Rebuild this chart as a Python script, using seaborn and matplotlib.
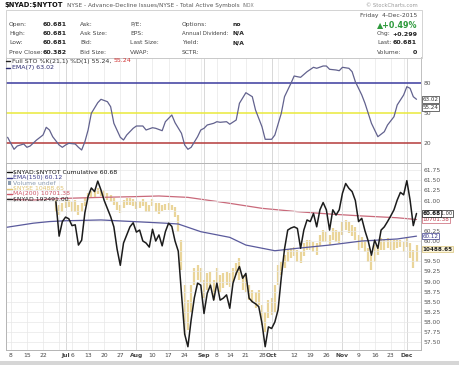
import numpy as np
import pandas as pd
import matplotlib
matplotlib.use("Agg")
import matplotlib.pyplot as plt
import matplotlib.transforms as mtransforms
from matplotlib.lines import Line2D
from matplotlib.patches import Rectangle
import seaborn as sns

# ---------------- data ----------------
holidays = ["2015-07-03", "2015-09-07", "2015-11-26"]
cal_start, cal_end = "2015-06-04", "2015-12-04"

cum_start = "2015-06-26"
cum_values = [
    60.97, 60.12, 60.48,
    60.59, 60.55, 60.38, 60.40, 59.90, 60.02, 60.70, 61.10, 61.31, 61.22, 61.48, 61.26,
    61.00, 60.80, 60.60, 60.35, 59.80, 59.40, 59.95, 60.15, 60.35, 60.45,
    60.22, 60.27, 60.00, 59.95, 59.85, 60.29, 60.00, 60.15, 59.88, 60.23, 60.44, 60.36,
    60.00, 59.75, 58.70, 57.70, 57.39, 58.05, 58.60, 58.96, 58.91,
    58.21, 58.71, 58.91, 58.54, 58.96, 58.54, 58.59, 58.67, 58.34, 58.96, 59.20, 59.37,
    59.08, 59.20, 58.59, 58.50, 58.45, 58.38, 57.97, 57.39, 57.88,
    57.84, 58.00, 58.30, 59.10, 59.80, 60.27, 60.32, 60.35, 60.31, 59.82, 60.27, 60.52,
    60.48, 60.68, 60.35, 60.77, 60.95, 60.77, 60.27, 60.77, 60.64, 60.77,
    61.18, 61.42, 61.30, 61.22, 61.00, 60.48, 60.56, 60.25, 60.00, 59.65, 60.02, 59.82,
    60.27, 60.35, 60.48, 60.62, 60.77, 61.01, 61.20, 61.14,
    61.49, 61.01, 60.38, 60.68,
]

nyse_start = "2015-06-26"
nyse_high = [
    10840, 10805, 10820, 10840, 10840, 10830, 10840, 10805, 10820, 10855,
    10890, 10905, 10905, 10930, 10915, 10915, 10890, 10880, 10855, 10830,
    10805, 10840, 10855, 10855, 10850, 10835, 10835, 10850, 10830, 10805,
    10850, 10820, 10820, 10805, 10815, 10820, 10805, 10790,
    10735, 10555, 10230, 10120, 10230, 10350, 10375, 10350, 10265, 10315,
    10325, 10265, 10350, 10300, 10315, 10325, 10315, 10350, 10390, 10425,
    10300, 10300, 10230, 10195, 10180, 10195, 10085, 10035, 10120, 10135,
    10230, 10375, 10395, 10445, 10480, 10495, 10505, 10480, 10465, 10530,
    10555, 10555, 10540, 10530, 10590, 10625, 10610, 10590, 10640, 10625,
    10610, 10685, 10700, 10685, 10660, 10645, 10590, 10575, 10555, 10495,
    10445, 10520, 10520, 10570, 10555, 10570, 10555, 10555, 10555, 10555,
    10540, 10570, 10530, 10480, 10520,
]
nyse_low = [
    10755, 10735, 10755, 10785, 10790, 10755, 10755, 10735, 10755, 10800,
    10840, 10865, 10865, 10885, 10870, 10855, 10840, 10830, 10805, 10770,
    10750, 10785, 10805, 10805, 10800, 10775, 10785, 10800, 10755, 10755,
    10800, 10755, 10740, 10765, 10770, 10770, 10770, 10720,
    10610, 10335, 9870, 9905, 10035, 10230, 10265, 10250, 10135, 10195,
    10215, 10120, 10245, 10180, 10210, 10230, 10215, 10250, 10300, 10265,
    10195, 10180, 10120, 10100, 10065, 10085, 9940, 9890, 9990, 10015,
    10035, 10230, 10300, 10350, 10395, 10425, 10440, 10395, 10385, 10440,
    10480, 10480, 10465, 10445, 10510, 10540, 10540, 10520, 10555, 10540,
    10530, 10590, 10625, 10605, 10580, 10555, 10480, 10495, 10465, 10395,
    10335, 10395, 10445, 10480, 10480, 10495, 10480, 10480, 10495, 10505,
    10465, 10505, 10425, 10350, 10395,
]

sto_dates = [
    "2015-06-05", "2015-06-09", "2015-06-10", "2015-06-12", "2015-06-15", "2015-06-16",
    "2015-06-18", "2015-06-22", "2015-06-23", "2015-06-24", "2015-06-25", "2015-06-29",
    "2015-06-30", "2015-07-01", "2015-07-02", "2015-07-07", "2015-07-08", "2015-07-09",
    "2015-07-10", "2015-07-13", "2015-07-14", "2015-07-16", "2015-07-17", "2015-07-21",
    "2015-07-22", "2015-07-23", "2015-07-27", "2015-07-28", "2015-07-29", "2015-07-31",
    "2015-08-03", "2015-08-05", "2015-08-06", "2015-08-10", "2015-08-11", "2015-08-13",
    "2015-08-14", "2015-08-18", "2015-08-19", "2015-08-21", "2015-08-24", "2015-08-25",
    "2015-08-26", "2015-08-28", "2015-08-31", "2015-09-01", "2015-09-02", "2015-09-04",
    "2015-09-08", "2015-09-09", "2015-09-11", "2015-09-14", "2015-09-16", "2015-09-17",
    "2015-09-21", "2015-09-23", "2015-09-24", "2015-09-28", "2015-09-29", "2015-10-01",
    "2015-10-02", "2015-10-06", "2015-10-07", "2015-10-09", "2015-10-12", "2015-10-13",
    "2015-10-14", "2015-10-16", "2015-10-20", "2015-10-21", "2015-10-23", "2015-10-26",
    "2015-10-27", "2015-10-29", "2015-10-30", "2015-11-02", "2015-11-04", "2015-11-05",
    "2015-11-06", "2015-11-10", "2015-11-11", "2015-11-13", "2015-11-16", "2015-11-17",
    "2015-11-19", "2015-11-20", "2015-11-24", "2015-11-25", "2015-11-30", "2015-12-01",
    "2015-12-02", "2015-12-03", "2015-12-04",
]
sto_values = [
    25.4, 13.4, 16.7, 18.7, 15.4, 16.7,
    22.7, 27.7, 35.4, 32.7, 26.0, 17.7,
    15.4, 17.7, 19.4, 18.7, 15.4, 12.7,
    21.0, 32.7, 49.4, 60.0, 63.4, 61.0,
    56.0, 39.4, 25.4, 22.7, 27.7, 34.4,
    36.7, 36.7, 32.7, 35.0, 34.4, 32.0,
    41.0, 47.7, 40.0, 29.4, 17.7, 13.4,
    15.4, 26.0, 32.7, 34.4, 37.7, 39.4,
    41.0, 40.4, 41.0, 38.5, 42.7, 59.4,
    70.0, 66.0, 52.7, 36.0, 23.4, 23.4,
    27.7, 49.4, 66.0, 79.4, 86.7, 86.0,
    85.4, 91.0, 95.4, 94.4, 96.7, 96.7,
    93.4, 92.7, 92.0, 95.4, 94.4, 91.0,
    81.0, 67.7, 59.4, 39.4, 32.7, 26.0,
    31.0, 37.7, 46.0, 57.7, 67.7, 76.0,
    74.4, 66.0, 63.4,
]
sto_levels = [80, 50, 20]

ema150_dates = ["2015-06-04", "2015-06-17", "2015-06-24", "2015-07-01", "2015-07-17",
                "2015-07-31", "2015-08-14", "2015-08-20", "2015-08-31", "2015-09-14",
                "2015-09-21", "2015-10-02", "2015-10-13", "2015-10-27", "2015-11-10",
                "2015-11-25", "2015-12-04"]
ema150_values = [60.33, 60.44, 60.48, 60.50, 60.52, 60.48, 60.44, 60.42, 60.23, 60.09,
                 59.90, 59.76, 59.82, 59.90, 60.00, 60.05, 60.12]

ma200_dates = ["2015-06-04", "2015-06-17", "2015-07-01", "2015-07-17", "2015-07-31",
               "2015-08-12", "2015-08-25", "2015-09-14", "2015-09-28", "2015-10-13",
               "2015-10-27", "2015-11-10", "2015-11-25", "2015-12-04"]
ma200_values = [10847, 10842, 10854, 10861, 10866, 10871, 10861, 10818, 10782, 10758,
                10741, 10727, 10714, 10701.38]

tick_dates = ["2015-06-08", "2015-06-15", "2015-06-22", "2015-07-01", "2015-07-06",
              "2015-07-13", "2015-07-20", "2015-07-27", "2015-08-03", "2015-08-10",
              "2015-08-17", "2015-08-24", "2015-09-01", "2015-09-08", "2015-09-14",
              "2015-09-21", "2015-09-28", "2015-10-01", "2015-10-12", "2015-10-19",
              "2015-10-26", "2015-11-02", "2015-11-09", "2015-11-16", "2015-11-23",
              "2015-12-01"]
tick_labels = ["8", "15", "22", "Jul", "6", "13", "20", "27", "Aug", "10", "17", "24",
               "Sep", "8", "14", "21", "28", "Oct", "12", "19", "26", "Nov", "9", "16",
               "23", "Dec"]
month_labels = ["Jul", "Aug", "Sep", "Oct", "Nov", "Dec"]

last_cum, last_ema, last_ma, last_nyse, last_nyad = 60.68, 60.12, 10701.38, 10488.65, "192491.00"
last_sto, last_sto_ema = 55.24, 63.02
hidden_ticks = [60.75, 60.50, 59.75]   # covered by value boxes in the original

# ---------------- trading calendar ----------------
days = pd.bdate_range(cal_start, cal_end)
days = days[~days.isin(pd.to_datetime(holidays))]
session = {d: i for i, d in enumerate(days)}


def sess(dates):
    return [session[pd.Timestamp(d)] for d in dates]


cum_df = pd.DataFrame({"s": sess(days[days >= pd.Timestamp(cum_start)]), "v": cum_values})
nyse_days = days[days >= pd.Timestamp(nyse_start)]
nyse_df = pd.DataFrame({"s": sess(nyse_days), "hi": nyse_high, "lo": nyse_low})
sto_df = pd.DataFrame({"s": sess(sto_dates), "v": sto_values})
ema_df = pd.DataFrame({"s": sess(ema150_dates), "v": ema150_values})
ma_df = pd.DataFrame({"s": sess(ma200_dates), "v": ma200_values})
ticks = sess(tick_dates)
wk = pd.Series(days).groupby(pd.Series(days).dt.isocalendar().week.values).first()
week_sessions = sess(wk)

# ---------------- figure ----------------
sns.set_style("white")
plt.rcParams["font.family"] = ["DejaVu Sans"]
W, H = 460, 365
fig = plt.figure(figsize=(W / 100, H / 100), dpi=100)
fig.patch.set_facecolor("white")
rend = fig.canvas.get_renderer()


def fx(px):
    return px / W


def fy(py):
    return 1 - py / H


def T(x, y, s, size=4.3, color="#333333", weight="normal", ha="left", va="center", **kw):
    return fig.text(fx(x), fy(y), s, fontsize=size, color=color, fontweight=weight,
                    ha=ha, va=va, **kw)


def fit(t, width_px):
    """scale a text so that it spans width_px pixels"""
    w = t.get_window_extent(renderer=rend).width
    t.set_fontsize(t.get_fontsize() * width_px / w)
    return t


def dash(x0, x1, y, color, lw=1.0):
    fig.add_artist(Line2D([fx(x0), fx(x1)], [fy(y), fy(y)], color=color, lw=lw,
                          transform=fig.transFigure))


L, R = 6, 420.7
sto_top, sto_bot = 57.5, 162.5
main_top, main_bot = 163.0, 350.0
ax_sto = fig.add_axes([fx(L), fy(sto_bot), (R - L) / W, (sto_bot - sto_top) / H])
ax_main = fig.add_axes([fx(L), fy(main_bot), (R - L) / W, (main_bot - main_top) / H])
ax2 = ax_main.twinx()
ax_main.set_zorder(ax2.get_zorder() + 1)
ax_main.patch.set_visible(False)

xlim = (0.5, 129.3)
grid_c, month_c = "#e8e8e8", "#c9c9c9"

for a in (ax_sto, ax_main, ax2):
    a.set_xlim(*xlim)
    for sp in a.spines.values():
        sp.set_color("#b5b5b5")
        sp.set_linewidth(0.6)

month_sessions = [t for t, lab in zip(ticks, tick_labels) if lab in month_labels]
for a in (ax_sto, ax_main):
    for t in sorted(set(week_sessions) | set(ticks)):
        a.axvline(t, color=month_c if t in month_sessions else grid_c, lw=0.5, zorder=0)

# ---- STO panel ----
ax_sto.set_ylim(0.2, 105.2)
for lvl, c in zip(sto_levels, ["#3b3b9e", "#eaea3a", "#b43a3a"]):
    ax_sto.axhline(lvl, color=c, lw=1.1, zorder=1)
sns.lineplot(data=sto_df, x="s", y="v", ax=ax_sto, color="#62628e", lw=0.9,
             estimator=None, sort=False, zorder=3)
ax_sto.set_xticks([])
ax_sto.yaxis.tick_right()
ax_sto.set_yticks(sto_levels)
ax_sto.set_yticklabels([str(v) for v in sto_levels])
ax_sto.tick_params(axis="y", length=0, pad=2, labelsize=4.3, labelcolor="#555555")
ax_sto.set_xlabel("")
ax_sto.set_ylabel("")

# ---- main panel ----
ax_main.set_ylim(57.309, 61.926)
ax2.set_ylim(9760.5, 11108.8)
yt = np.round(np.arange(57.5, 61.76, 0.25), 2)
for v in yt:
    ax_main.axhline(v, color=grid_c, lw=0.5, zorder=0)
ax2.vlines(nyse_df["s"], nyse_df["lo"], nyse_df["hi"], color="#ead59a", lw=1.6, zorder=1)
sns.lineplot(data=ma_df, x="s", y="v", ax=ax2, color="#c9697a", lw=0.9,
             estimator=None, sort=False, zorder=2)
sns.lineplot(data=ema_df, x="s", y="v", ax=ax_main, color="#5a5a9c", lw=0.9,
             estimator=None, sort=False, zorder=2)
sns.lineplot(data=cum_df, x="s", y="v", ax=ax_main, color="#1c1c1c", lw=1.1,
             estimator=None, sort=False, zorder=3)
ax2.set_yticks([])
ax2.set_ylabel("")
ax2.set_xlabel("")
ax_main.yaxis.tick_right()
shown = [v for v in yt if v not in hidden_ticks]
ax_main.set_yticks(shown)
ax_main.set_yticklabels([f"{v:.2f}" for v in shown])
ax_main.tick_params(axis="y", length=0, pad=2, labelsize=4.3, labelcolor="#555555")
ax_main.set_xticks(ticks)
ax_main.set_xticklabels(tick_labels)
ax_main.tick_params(axis="x", length=0, pad=2.5, labelsize=4.3, labelcolor="#444444")
for tl in ax_main.get_xticklabels():
    if tl.get_text() in month_labels:
        tl.set_fontweight("bold")
ax_main.set_xlabel("")
ax_main.set_ylabel("")

# ---- right-hand value boxes ----
bt_main = mtransforms.blended_transform_factory(ax_main.transAxes, ax_main.transData)
bt_nyse = mtransforms.blended_transform_factory(ax_main.transAxes, ax2.transData)
bt_sto = mtransforms.blended_transform_factory(ax_sto.transAxes, ax_sto.transData)


def vbox(y, s, tr, color, ec, fc="white", weight="normal", xoff=1.004, size=4.1):
    fig.text(xoff, y, s, transform=tr, fontsize=size, color=color, fontweight=weight,
             ha="left", va="center",
             bbox=dict(boxstyle="square,pad=0.12", fc=fc, ec=ec, lw=0.5))


vbox(last_sto_ema, f"{last_sto_ema:.2f}", bt_sto, "#333333", "#333333")
vbox(last_sto, f"{last_sto:.2f}", bt_sto, "#333333", "#333333")
vbox(last_nyse, f"{last_nyse:.2f}", bt_nyse, "#222222", "#d8c27a", fc="#fbf4da", weight="bold")
vbox(last_ema, f"{last_ema:.2f}", bt_main, "#3a3a8a", "#3a3a8a")
vbox(last_ma, f"{last_ma:.2f}", bt_nyse, "#c03848", "#c86070")
vbox(last_cum, last_nyad, bt_main, "#222222", "#222222", xoff=1.012, size=3.6)
vbox(last_cum, f"{last_cum:.2f}", bt_main, "#111111", "#111111", weight="bold")

# ---------------- header ----------------
fig.add_artist(Rectangle((fx(L), fy(sto_top)), (R + 1 - L) / W, (sto_top - 10) / H,
                         transform=fig.transFigure, fill=False, ec="#cccccc", lw=0.6))
fit(T(4, 5.5, r"\$NYAD:\$NYTOT", size=6.0, weight="bold", color="#111111"), 59)
fit(T(67, 5.8, "NYSE - Advance-Decline Issues/NYSE - Total Active Symbols", size=4.1,
      color="#555555"), 168)
T(243, 5.8, "INDX", size=3.3, color="#777777")
T(418, 5.3, "\u00a9 StockCharts.com", size=3.8, color="#9a9a9a", ha="right")

rows_y = [24.3, 33.3, 42.7, 52.0]
col_labels = [
    (9, ["Open:", "High:", "Low:", "Prev Close:"]),
    (80, ["Ask:", "Ask Size:", "Bid:", "Bid Size:"]),
    (130, ["P/E:", "EPS:", "Last Size:", "VWAP:"]),
    (182, ["Options:", "Annual Dividend:", "Yield:", "SCTR:"]),
]
for x, labs in col_labels:
    for y, s in zip(rows_y, labs):
        t = T(x, y, s, size=4.3, color="#444444")
        if s == "Annual Dividend:":
            fit(t, 46)
for y, s in zip(rows_y, ["60.681", "60.681", "60.681", "60.382"]):
    T(43, y, s, size=4.5, weight="bold", color="#222222")
for y, s in zip(rows_y, ["no", "N/A", "N/A", ""]):
    T(233, y, s, size=4.3, weight="bold", color="#222222")

T(417, 15.7, "Friday  4-Dec-2015", size=4.3, color="#444444", ha="right")
T(417, 25.0, "\u25b2+0.49%", size=5.8, color="#2e9a3c", ha="right", weight="bold")
for y, lab, val in [(34.0, "Chg:", "+0.299"), (43.0, "Last:", "60.681"), (52.0, "Volume:", "0")]:
    T(377, y, lab, size=4.3, color="#444444")
    T(417, y, val, size=4.5, color="#222222", ha="right", weight="bold")

# ---------------- legends ----------------
dash(6.5, 10, 61.0, "#222222")
t1 = T(12, 61.0, "Full STO %K(21,1) %D(1) 55.24, ", size=4.5, color="#333333")
bb = t1.get_window_extent(renderer=rend)
fig.text(bb.x1 / fig.bbox.width, fy(61.0), "55.24", fontsize=4.5, color="#d03030",
         ha="left", va="center")
dash(6.5, 10, 67.7, "#2a2a70")
T(12, 67.7, "EMA(7) 63.02", size=4.5, color="#2a2a70")

leg = [
    (172.3, r"\$NYAD:\$NYTOT Cumulative 60.68", "#111111", "#111111"),
    (177.7, "EMA(150) 60.12", "#3a3a8a", "#3a3a8a"),
    (183.0, "Volume undef", "#8a9bb0", "#8a9bb0"),
    (188.7, r"\$NYSE 10488.65", "#dfc272", "#dfc272"),
    (194.0, "MA(200) 10701.38", "#cc5566", "#cc5566"),
    (199.3, r"\$NYAD 192491.00", "#222222", "#222222"),
]
for y, s, tc, lc in leg:
    if s.startswith("Volume"):
        fig.add_artist(Rectangle((fx(8), fy(184.8)), 3 / W, 3.6 / H, transform=fig.transFigure,
                                 color=lc, lw=0))
    else:
        dash(7.5, 11.5, y, lc)
    T(13.5, y, s, size=4.4, color=tc)

# footer band
fig.add_artist(Rectangle((0, 0), 1, 4 / H, transform=fig.transFigure, color="#d6d6d6", lw=0))

fig.savefig("out.png", dpi=100, facecolor="white")
